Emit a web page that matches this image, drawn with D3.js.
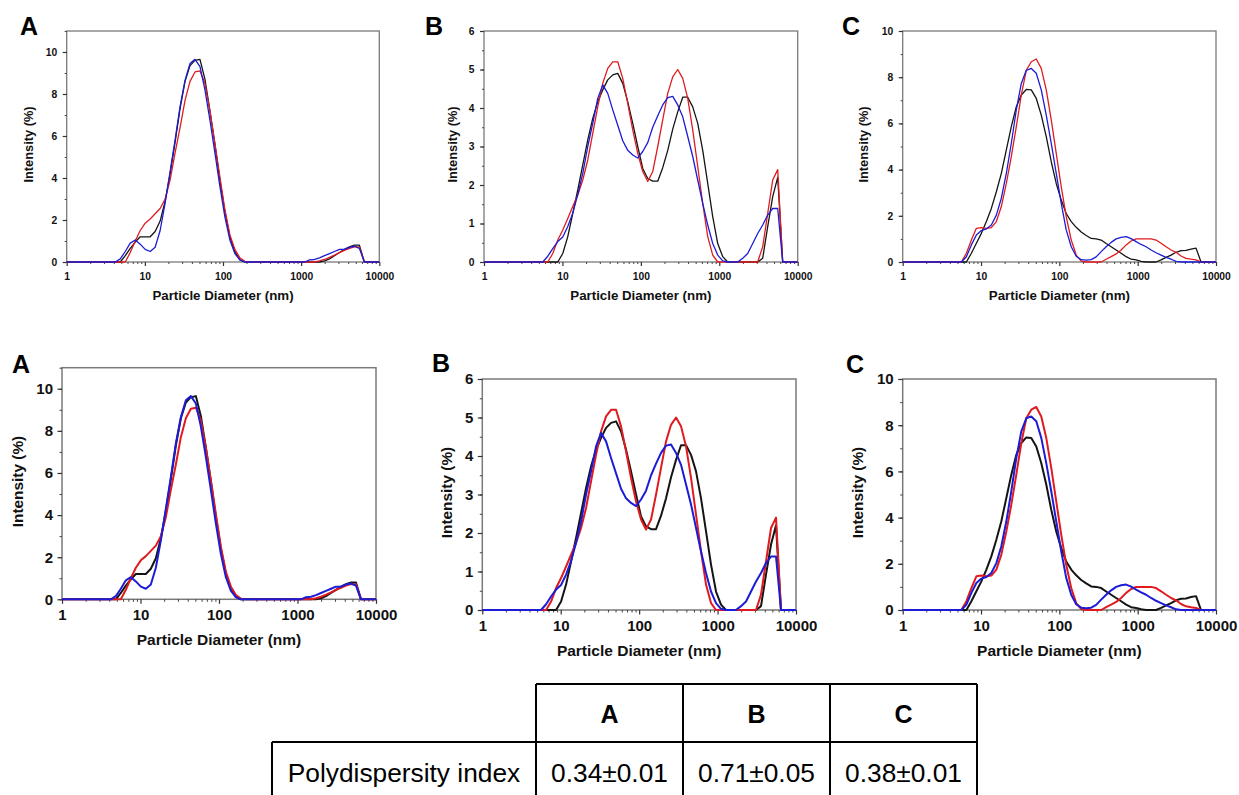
<!DOCTYPE html>
<html><head><meta charset="utf-8">
<script src="https://cdn.jsdelivr.net/npm/d3@7"></script>
<style>
html,body{margin:0;padding:0;background:#fff;}
svg{display:block;font-family:"Liberation Sans",Arial,sans-serif;}
</style></head><body>
<svg id="fig" width="1239" height="795"></svg>
<script>
// ---------- DATA ----------
const diameters = [0.9649,1.117,1.294,1.499,1.736,2.010,2.328,2.696,3.122,3.615,
  4.187,4.849,5.615,6.503,7.531,8.721,10.10,11.70,13.54,15.69,
  18.17,21.04,24.36,28.21,32.67,37.84,43.82,50.75,58.77,68.06,
  78.82,91.28,105.7,122.4,141.8,164.2,190.1,220.2,255.0,295.3,
  342.0,396.1,458.7,531.2,615.1,712.4,825.0,955.4,1106,1281,
  1484,1718,1990,2305,2669,3091,3580,4145,4801,5560,
  6439,7456,8635,10000];

const aBlack = [0,0,0,0,0,0,0,0,0,0,
  0,0,0.3,0.65,0.95,1.2,1.2,1.2,1.45,1.95,
  2.9,4.2,5.7,7.3,8.6,9.35,9.6,9.65,8.7,7.2,
  5.6,3.9,2.4,1.2,0.5,0.1,0,0,0,0,
  0,0,0,0,0,0,0,0,0,0,
  0,0,0.05,0.15,0.3,0.45,0.6,0.72,0.8,0.8,
  0,0,0,0];
const aRed = [0,0,0,0,0,0,0,0,0,0,
  0,0,0,0.45,1.0,1.5,1.85,2.05,2.3,2.55,
  3.0,3.9,5.2,6.4,7.7,8.6,9.05,9.1,8.5,7.2,
  5.65,4.05,2.5,1.3,0.6,0.2,0.03,0,0,0,
  0,0,0,0,0,0,0,0,0,0,
  0,0.05,0.12,0.22,0.33,0.45,0.55,0.65,0.72,0.72,
  0,0,0,0];
const aBlue = [0,0,0,0,0,0,0,0,0,0,
  0,0.15,0.5,0.9,1.05,0.85,0.6,0.5,0.7,1.5,
  2.8,4.3,5.8,7.4,8.65,9.45,9.65,9.3,8.2,6.75,
  5.2,3.6,2.15,1.05,0.4,0.1,0,0,0,0,
  0,0,0,0,0,0,0,0,0,0.1,
  0.12,0.2,0.3,0.4,0.5,0.6,0.6,0.7,0.75,0.65,
  0,0,0,0];

const bBlack = [0,0,0,0,0,0,0,0,0,0,
  0,0,0,0,0,0,0.22,0.66,1.26,1.87,
  2.52,3.17,3.73,4.16,4.47,4.73,4.86,4.9,4.64,4.16,
  3.6,3.0,2.43,2.17,2.1,2.1,2.45,2.9,3.45,3.9,
  4.28,4.28,4.03,3.6,2.9,2.04,1.18,0.48,0.14,0,
  0,0,0,0,0,0,0.1,0.92,1.7,2.2,
  0,0,0,0];
const bRed = [0,0,0,0,0,0,0,0,0,0,
  0,0,0,0,0.22,0.57,0.83,1.13,1.44,1.74,
  2.13,2.65,3.34,4.03,4.64,5.03,5.2,5.2,4.77,4.12,
  3.43,2.82,2.35,2.09,2.35,3.0,3.69,4.38,4.81,5.0,
  4.77,4.25,3.43,2.48,1.52,0.66,0.18,0,0,0,
  0,0,0,0,0,0,0.4,1.26,2.13,2.4,
  0,0,0,0];
const bBlue = [0,0,0,0,0,0,0,0,0,0,
  0,0,0,0.15,0.35,0.53,0.65,0.92,1.27,1.75,
  2.3,3.0,3.6,4.25,4.6,4.38,3.95,3.55,3.15,2.9,
  2.78,2.7,2.87,3.1,3.5,3.8,4.08,4.27,4.3,4.08,
  3.77,3.26,2.74,2.13,1.52,0.96,0.48,0.18,0.03,0,
  0,0,0.1,0.22,0.48,0.74,0.96,1.22,1.39,1.39,
  0,0,0,0];

const cBlack = [0,0,0,0,0,0,0,0,0,0,
  0,0,0,0,0.38,0.81,1.24,1.75,2.32,3.04,
  3.84,4.85,5.86,6.72,7.23,7.47,7.45,7.08,6.36,5.43,
  4.34,3.4,2.68,2.1,1.75,1.5,1.3,1.15,1.02,1.0,
  0.95,0.8,0.66,0.52,0.38,0.23,0.12,0.09,0.03,0,
  0,0,0.09,0.2,0.3,0.42,0.49,0.5,0.56,0.6,
  0,0,0,0];
const cRed = [0,0,0,0,0,0,0,0,0,0,
  0,0,0,0.38,0.95,1.46,1.49,1.46,1.49,1.75,
  2.4,3.4,4.56,5.86,7.23,8.3,8.67,8.79,8.38,7.45,
  6.15,4.7,3.26,1.96,0.95,0.3,0.04,0,0,0,
  0,0.12,0.23,0.35,0.52,0.74,0.91,1.0,1.0,1.0,
  1.0,0.95,0.81,0.66,0.52,0.42,0.26,0.16,0.12,0.09,
  0,0,0,0];
const cBlue = [0,0,0,0,0,0,0,0,0,0,
  0,0,0,0.23,0.74,1.17,1.36,1.43,1.6,2.03,
  2.76,3.84,5.14,6.58,7.73,8.3,8.38,8.17,7.45,6.36,
  5.14,3.84,2.54,1.39,0.66,0.25,0.1,0.08,0.1,0.22,
  0.45,0.66,0.85,1.0,1.07,1.1,1.01,0.88,0.76,0.66,
  0.52,0.4,0.3,0.2,0.12,0.03,0,0,0,0,
  0,0,0,0];

const panelLetters = ['A','B','C'];
const yMaxima = [11, 6, 10];
const yMajorSteps = [2, 1, 2];
const yMinorSteps = [1, 0.5, 1];
const yLabelTop = [10, 6, 10];
const xTickValues = [1, 10, 100, 1000, 10000];
const xTitle = 'Particle Diameter (nm)';
const yTitle = 'Intensity (%)';

const tableHeaders = ['A', 'B', 'C'];
const tableRowLabel = 'Polydispersity index';
const pdiValues = ['0.34±0.01', '0.71±0.05', '0.38±0.01'];

// ---------- LAYOUT / STYLE ----------
const panelSeries = [[aBlack, aRed, aBlue], [bBlack, bRed, bBlue], [cBlack, cRed, cBlue]];
const lineColors = ['#141414', '#e01b1f', '#1c1cd6'];

const rows = [
  { boxes: [{x0:66.7,x1:379.3,yt:31,yb:262},{x0:484,x1:797.7,yt:31,yb:262},{x0:902.7,x1:1216,yt:31,yb:262}],
    letters: [[20,35],[425,35],[842,35]], yTitleX: [28,452,863], xTitleOff: 38,
    tickFont: 10.3, xTitleFont: 13.3, yTitleFont: 12.8, letterFont: 25, lineW: 1.3, tickLen: 4, minorLen: 2,
    xPad: 7, yPad: 5.5, frameW: 1.3 },
  { boxes: [{x0:62,x1:376,yt:367.7,yb:599.3},{x0:482.3,x1:796,yt:379,yb:610},{x0:902.7,x1:1216,yt:379,yb:610}],
    letters: [[12,373],[432,372],[846,373]], yTitleX: [17.5,446.7,857], xTitleOff: 46,
    tickFont: 15, xTitleFont: 15.5, yTitleFont: 15.4, letterFont: 25, lineW: 2.0, tickLen: 4.5, minorLen: 2.5,
    xPad: 5.5, yPad: 4.5, frameW: 1.5 }
];

const svg = d3.select('#fig');
const defs = svg.append('defs');
let clipN = 0;

function drawPanel(row, i) {
  const box = row.boxes[i];
  const yMax = yMaxima[i];
  const x = d3.scaleLog().domain([1, 10000]).range([box.x0, box.x1]);
  const y = d3.scaleLinear().domain([0, yMax]).range([box.yb, box.yt]);
  const g = svg.append('g');

  g.append('rect').attr('x', box.x0).attr('y', box.yt)
    .attr('width', box.x1 - box.x0).attr('height', box.yb - box.yt)
    .attr('fill', 'none').attr('stroke', '#7a7a7a').attr('stroke-width', row.frameW);

  const xMinor = x.ticks().filter(v => !xTickValues.includes(v));
  g.append('g').attr('transform', `translate(0,${box.yb})`)
    .call(d3.axisBottom(x).tickValues(xMinor).tickSize(row.minorLen).tickFormat(''))
    .call(a => { a.select('.domain').remove(); a.selectAll('line').attr('stroke', '#444').attr('stroke-width', 1); });
  g.append('g').attr('transform', `translate(0,${box.yb})`)
    .call(d3.axisBottom(x).tickValues(xTickValues).tickSize(row.tickLen).tickPadding(row.xPad).tickFormat(d3.format('d')))
    .call(a => {
      a.select('.domain').remove();
      a.selectAll('line').attr('stroke', '#333').attr('stroke-width', 1.2);
      a.selectAll('text').attr('font-size', row.tickFont).attr('font-weight', 'bold').attr('fill', '#111')
        .attr('font-family', '"Liberation Sans",Arial,sans-serif');
    });

  const yMinor = d3.range(0, yMax + 1e-9, yMinorSteps[i]);
  g.append('g').attr('transform', `translate(${box.x0},0)`)
    .call(d3.axisLeft(y).tickValues(yMinor).tickSize(row.minorLen).tickFormat(''))
    .call(a => { a.select('.domain').remove(); a.selectAll('line').attr('stroke', '#444').attr('stroke-width', 1); });
  const yMajor = d3.range(0, yLabelTop[i] + 1e-9, yMajorSteps[i]);
  g.append('g').attr('transform', `translate(${box.x0},0)`)
    .call(d3.axisLeft(y).tickValues(yMajor).tickSize(row.tickLen).tickPadding(row.yPad).tickFormat(d3.format('d')))
    .call(a => {
      a.select('.domain').remove();
      a.selectAll('line').attr('stroke', '#333').attr('stroke-width', 1.2);
      a.selectAll('text').attr('font-size', row.tickFont).attr('font-weight', 'bold').attr('fill', '#111')
        .attr('font-family', '"Liberation Sans",Arial,sans-serif');
    });

  const cid = 'clip' + (clipN++);
  defs.append('clipPath').attr('id', cid).append('rect')
    .attr('x', box.x0).attr('y', box.yt - 2).attr('width', box.x1 - box.x0).attr('height', box.yb - box.yt + 4);
  const line = d3.line().x(d => x(d[0])).y(d => y(d[1]));
  const lg = g.append('g').attr('clip-path', `url(#${cid})`);
  panelSeries[i].forEach((vals, s) => {
    lg.append('path').datum(d3.zip(diameters, vals)).attr('d', line)
      .attr('fill', 'none').attr('stroke', lineColors[s]).attr('stroke-width', row.lineW)
      .attr('stroke-linejoin', 'round');
  });

  g.append('text').attr('x', (box.x0 + box.x1) / 2).attr('y', box.yb + row.xTitleOff)
    .attr('text-anchor', 'middle').attr('font-size', row.xTitleFont).attr('font-weight', 'bold').attr('fill', '#111')
    .text(xTitle);
  const cy = (box.yt + box.yb) / 2 - 2;
  const tx = row.yTitleX[i] + row.yTitleFont * 0.36;
  g.append('text').attr('transform', `translate(${tx},${cy}) rotate(-90)`)
    .attr('text-anchor', 'middle').attr('font-size', row.yTitleFont).attr('font-weight', 'bold').attr('fill', '#111')
    .text(yTitle);
  g.append('text').attr('x', row.letters[i][0]).attr('y', row.letters[i][1])
    .attr('font-size', row.letterFont).attr('font-weight', 'bold').attr('fill', '#000')
    .text(panelLetters[i]);
}

rows.forEach(row => [0, 1, 2].forEach(i => drawPanel(row, i)));

// ---------- TABLE ----------
const colEdges = [272, 536, 683, 830, 977];
const rowEdges = [684, 742, 800];
const tg = svg.append('g').attr('stroke', '#000').attr('stroke-width', 2);
tg.append('line').attr('x1', colEdges[1]).attr('x2', colEdges[4]).attr('y1', rowEdges[0]).attr('y2', rowEdges[0]);
tg.append('line').attr('x1', colEdges[0]).attr('x2', colEdges[4]).attr('y1', rowEdges[1]).attr('y2', rowEdges[1]);
tg.append('line').attr('x1', colEdges[0]).attr('x2', colEdges[0]).attr('y1', rowEdges[1]).attr('y2', rowEdges[2]);
[1, 2, 3, 4].forEach(c => tg.append('line').attr('x1', colEdges[c]).attr('x2', colEdges[c]).attr('y1', rowEdges[0]).attr('y2', rowEdges[2]));

const th = svg.append('g');
tableHeaders.forEach((h, j) => {
  th.append('text').attr('x', (colEdges[j + 1] + colEdges[j + 2]) / 2).attr('y', 723)
    .attr('text-anchor', 'middle').attr('font-size', 25).attr('font-weight', 'bold').attr('fill', '#000').text(h);
  th.append('text').attr('x', (colEdges[j + 1] + colEdges[j + 2]) / 2).attr('y', 782)
    .attr('text-anchor', 'middle').attr('font-size', 26.3).attr('fill', '#000').text(pdiValues[j]);
});
th.append('text').attr('x', (colEdges[0] + colEdges[1]) / 2).attr('y', 782)
  .attr('text-anchor', 'middle').attr('font-size', 26.3).attr('fill', '#000').text(tableRowLabel);
</script>
</body></html>
